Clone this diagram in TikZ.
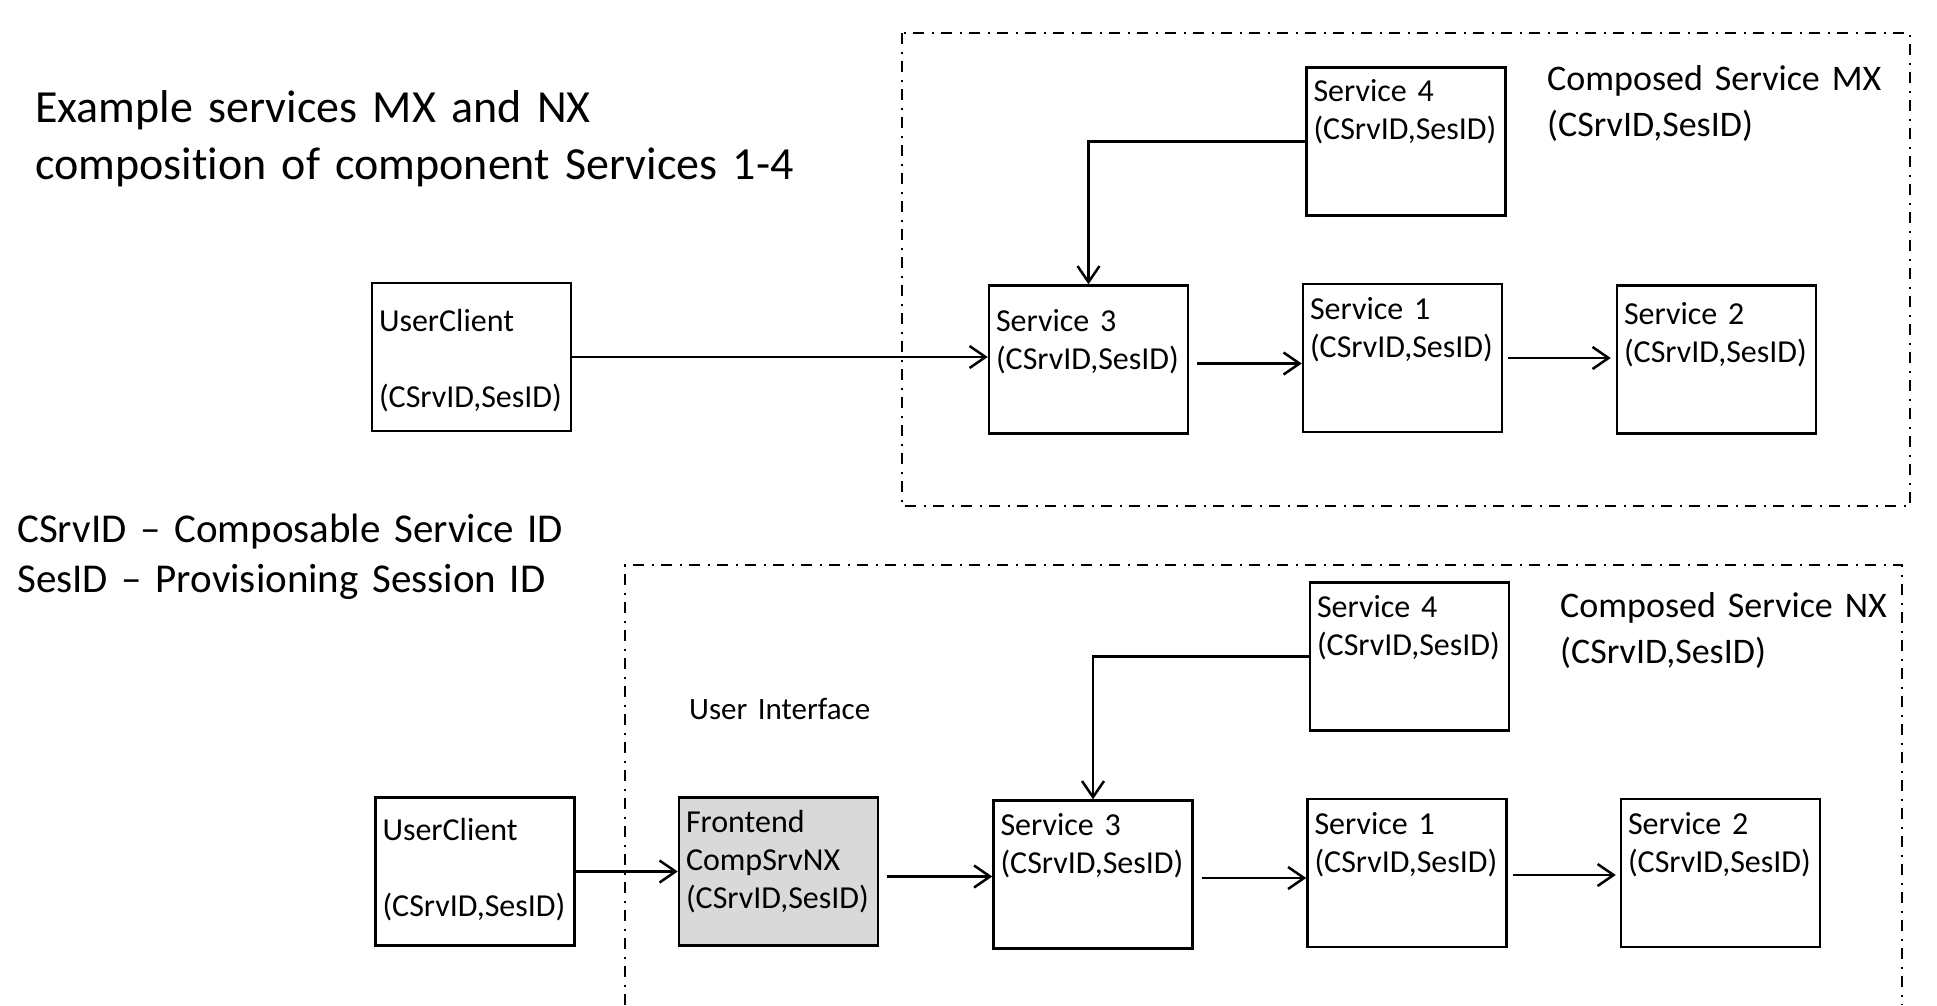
\documentclass[tikz,border=0pt]{standalone}
\usepackage{fontspec}
\setmainfont{Carlito}[Ligatures=NoCommon]
\usetikzlibrary{arrows.meta}
\definecolor{fegray}{HTML}{D9D9D9}

\begin{document}
\begin{tikzpicture}[x=1pt, y=-1pt,
    svc/.style={draw, line width=2.5pt, minimum width=199pt, minimum height=148pt,
      inner xsep=7pt, inner ysep=0pt, text width=185pt, align=left,
      text height=35pt, text depth=113pt, font=\fontsize{32}{38}\selectfont},
    arr/.style={line width=2.5pt, -{Straight Barb[length=16pt,width=22pt,line width=2.5pt]}},
    frame/.style={line width=2pt, dash pattern=on 11pt off 7.5pt on 2pt off 7.5pt},
    note/.style={anchor=base west, inner sep=0pt, align=left, text width=#1}]
    \useasboundingbox (0,0) rectangle (1937,1005);

    % texts on the left
    \node[note=900pt, font=\fontsize{46}{57}\selectfont] (title) at (35,122)
      {Example services MX and NX\\composition of component Services 1-4};
    \node[note=700pt, font=\fontsize{41}{50}\selectfont] (legend) at (17,542)
      {CSrvID -- Composable Service ID\\SesID -- Provisioning Session ID};

    % composed service MX
    \draw[frame] (902,33) rectangle (1910,506);
    \node[note=400pt, font=\fontsize{36}{46}\selectfont] (cmx) at (1547,90)
      {Composed Service MX\\(CSrvID,SesID)};
    \node[svc, text height=48pt, text depth=100pt] (ucmx) at (471.5,357) {UserClient\\[38pt](CSrvID,SesID)};
    \node[svc, text height=46pt, text depth=102pt] (s3mx) at (1088.5,359.5) {Service 3\\(CSrvID,SesID)};
    \node[svc] (s1mx) at (1402.5,358) {Service 1\\(CSrvID,SesID)};
    \node[svc, text height=39pt, text depth=109pt] (s2mx) at (1716.5,359.5) {Service 2\\(CSrvID,SesID)};
    \node[svc, text height=34pt, text depth=114pt] (s4mx) at (1406,141.5) {Service 4\\(CSrvID,SesID)};

    \draw[arr] (ucmx.east) -- (ucmx.east -| s3mx.west);
    \draw[arr] ([xshift=8pt,yshift=-4pt]s3mx.east) -- ([yshift=-4pt]s3mx.east -| s1mx.west);
    \draw[arr, shorten >=5pt] ([xshift=5pt]s1mx.east) -- (s1mx.east -| s2mx.west);
    \draw[arr] (s4mx.west) -| (s3mx.north);

    % composed service NX
    \draw[frame] (625,1005) -- (625,565) -- (1902,565) -- (1902,1005);
    \node[note=400pt, font=\fontsize{36}{46}\selectfont] (cnx) at (1560,617)
      {Composed Service NX\\(CSrvID,SesID)};
    \node[note=300pt, font=\fontsize{31}{38}\selectfont] (ui) at (689,719) {User Interface};
    \node[svc, text height=43pt, text depth=105pt] (ucnx) at (475,871.5) {UserClient\\[38pt](CSrvID,SesID)};
    \node[svc, fill=fegray] (fenx) at (778.5,871.5) {Frontend\\CompSrvNX\\(CSrvID,SesID)};
    \node[svc] (s3nx) at (1093,874.5) {Service 3\\(CSrvID,SesID)};
    \node[svc] (s1nx) at (1407,873) {Service 1\\(CSrvID,SesID)};
    \node[svc] (s2nx) at (1720.5,873) {Service 2\\(CSrvID,SesID)};
    \node[svc] (s4nx) at (1409.5,656.5) {Service 4\\(CSrvID,SesID)};

    \draw[arr] (ucnx.east) -- (fenx.west);
    \draw[arr] ([xshift=8pt,yshift=-5pt]fenx.east) -- ([yshift=-5pt]fenx.east -| s3nx.west);
    \draw[arr] ([xshift=8pt,yshift=-3.5pt]s3nx.east) -- ([yshift=-3.5pt]s3nx.east -| s1nx.west);
    \draw[arr, shorten >=4pt] ([xshift=5pt,yshift=-2pt]s1nx.east) -- ([yshift=-2pt]s1nx.east -| s2nx.west);
    \draw[arr] (s4nx.west) -| (s3nx.north);
\end{tikzpicture}
\end{document}
